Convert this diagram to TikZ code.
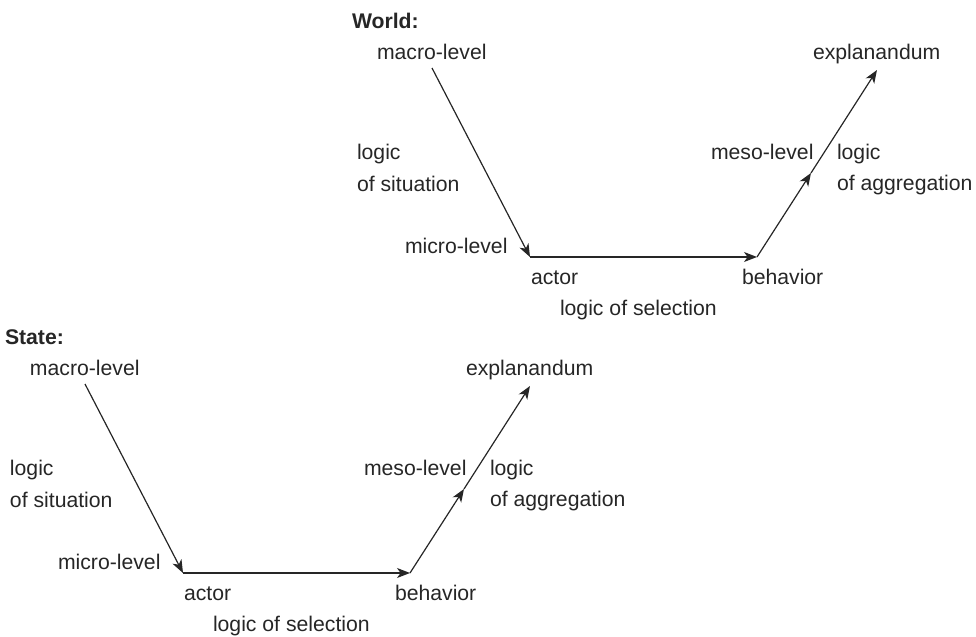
\documentclass[tikz,border=0pt]{standalone}
\usepackage{fontspec}
\setmainfont{Liberation Sans}
\usetikzlibrary{arrows.meta}
\tikzset{
  lbl/.style={anchor=base west, inner sep=0pt, outer sep=0pt, font=\fontsize{10.6pt}{12pt}\selectfont, text=black!85},
  ttl/.style={lbl, font=\fontsize{10.6pt}{12pt}\selectfont\bfseries},
  arr/.style={draw=black!85, line width=0.6pt, -{Stealth[length=6.5pt,width=5pt,inset=1.8pt]}},
}
\newcommand{\hesblock}[1]{%
  \node[ttl] (title) at (352,28) {#1};
  \node[lbl] (macro) at (377,59) {macro-level};
  \node[lbl] (sit1) at (357,159) {logic};
  \node[lbl] (sit2) at (357,191) {of situation};
  \node[lbl] (micro) at (405,253) {micro-level};
  \node[lbl] (actor) at (531,284) {actor};
  \node[lbl] (sel) at (560,315) {logic of selection};
  \node[lbl] (behav) at (742,284) {behavior};
  \node[lbl] (meso) at (711,159) {meso-level};
  \node[lbl] (agg1) at (837,159) {logic};
  \node[lbl] (agg2) at (837,190) {of aggregation};
  \node[lbl] (expl) at (813,59) {explanandum};
  \coordinate (pmacro) at (432,68);
  \coordinate (pactor) at (530,257);
  \coordinate (pbehav) at (757,257);
  \coordinate (pmid) at (811,173);
  \coordinate (pexpl) at (877,70);
  \draw[arr] (pmacro) -- (pactor);
  \draw[arr] (pactor) -- (pbehav);
  \draw[arr] (pbehav) -- (pmid);
  \draw[arr] (pmid) -- (pexpl);
}
\begin{document}
\begin{tikzpicture}[x=0.5pt,y=-0.5pt]
  \useasboundingbox (0,0) rectangle (976,637);
  \begin{scope}[name prefix=w-]
    \hesblock{World:}
  \end{scope}
  \begin{scope}[shift={(-347,316)}, name prefix=s-]
    \hesblock{State:}
  \end{scope}
\end{tikzpicture}
\end{document}
